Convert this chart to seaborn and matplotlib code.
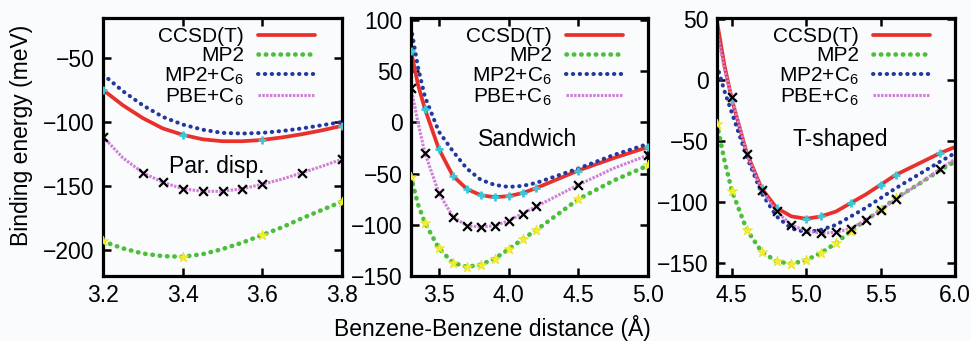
import numpy as np
import pandas as pd
import matplotlib
matplotlib.use("Agg")
import matplotlib.pyplot as plt
import seaborn as sns

# ---------------- data ----------------
methods = ["CCSD(T)", "MP2", "MP2+C6", "PBE+C6"]
legend_labels = ["CCSD(T)", "MP2", r"MP2+C$_\mathregular{6}$", r"PBE+C$_\mathregular{6}$"]

# Parallel displaced
par_x = [3.2, 3.25, 3.3, 3.35, 3.4, 3.45, 3.5, 3.55, 3.6, 3.65, 3.7, 3.75, 3.8]
par_ccsd = [-75, -87, -97, -105, -110, -113.5, -115, -115, -114, -112, -109.5, -106.5, -103]
par_mp2 = [-193, -198.5, -202.5, -204.5, -205, -203, -199, -194, -188, -182, -175, -168.5, -162]
par_mp2c6 = [-63, -76, -87, -96, -102, -106, -108.5, -109, -108.5, -107, -105, -102.5, -100]
par_pbec6 = [-111.5, -128, -139.5, -147, -152, -154, -154, -152, -148.5, -144.5, -139.5, -134.5, -129]
par_ccsd_marks = [3.2, 3.4, 3.6, 3.8]
par_mp2_marks = [3.2, 3.4, 3.6, 3.8]
par_pbe_marks = [3.2, 3.3, 3.35, 3.4, 3.45, 3.5, 3.55, 3.6, 3.7, 3.8]

# Sandwich
sw_x = [3.3, 3.35, 3.4, 3.5, 3.6, 3.7, 3.8, 3.9, 4.0, 4.1, 4.2, 4.5, 4.75, 5.0]
sw_ccsd = [70, 37, 13, -26, -52, -65, -71, -73, -72, -69, -64, -47, -35, -24]
sw_mp2 = [-53, -80, -98, -123, -137, -141, -139, -133, -124, -114, -105, -75, -57, -42]
sw_mp2c6 = [93, 54, 25, -9, -28, -45, -56, -61, -63, -62, -59, -45, -32, -21]
sw_pbec6 = [34, 0, -30, -69, -92, -101, -102, -101, -96, -89, -82, -61, -45, -32]
sw_ccsd_marks = [3.3, 3.4, 3.5, 3.6, 3.7, 3.8, 3.9, 4.0, 4.1, 4.2, 4.5, 5.0]
sw_mp2_marks = [3.3, 3.4, 3.5, 3.6, 3.7, 3.8, 3.9, 4.0, 4.1, 4.2, 4.5, 5.0]
sw_pbe_marks = [3.3, 3.4, 3.5, 3.6, 3.7, 3.8, 3.9, 4.0, 4.1, 4.2, 4.5, 5.0]

# T-shaped
ts_x = [4.4, 4.45, 4.5, 4.6, 4.7, 4.8, 4.9, 5.0, 5.1, 5.2, 5.3, 5.4, 5.5, 5.6, 5.75, 5.9, 6.0]
ts_ccsd = [48, 12, -16, -60, -89, -105, -112, -114, -112, -108, -101, -94, -86, -78, -69, -60, -55]
ts_mp2 = [-36, -66, -91, -123, -141, -149, -151, -148, -142, -134, -124, -115, -107, -97, -86, -74, -67]
ts_mp2c6 = [12, -9, -27, -63, -93, -112, -122, -125, -123, -119, -112, -105, -97, -89, -78, -67, -60]
ts_pbec6 = [40, 9, -14, -61, -90, -108, -119, -124, -126, -125, -122, -115, -107, -98, -86, -73, -65]
ts_ccsd_marks = [4.5, 4.7, 4.8, 5.0, 5.1, 5.3, 5.5, 5.6, 5.9]
ts_mp2_marks = [4.4, 4.5, 4.6, 4.7, 4.8, 4.9, 5.0, 5.1, 5.2, 5.3, 5.5, 5.6]
ts_pbe_marks = [4.5, 4.6, 4.7, 4.8, 4.9, 5.0, 5.1, 5.2, 5.3, 5.4, 5.5, 5.6, 5.9]

panel_titles = ["Par. disp.", "Sandwich", "T-shaped"]
x_label = "Benzene-Benzene distance (Å)"
y_label = "Binding energy (meV)"

# ---------------- style ----------------
sns.set_theme(style="ticks")
plt.rcParams["font.family"] = ["Liberation Sans", "DejaVu Sans"]
plt.rcParams["mathtext.fontset"] = "custom"
plt.rcParams["mathtext.rm"] = "Liberation Sans"
plt.rcParams["axes.unicode_minus"] = True
for key in ["text.color", "axes.labelcolor", "xtick.color", "ytick.color",
            "xtick.labelcolor", "ytick.labelcolor"]:
    plt.rcParams[key] = "black"

BG = "#fafbfd"
line_styles = {
    "CCSD(T)": dict(color="#e8302c", lw=2.7, linestyle="-"),
    "MP2": dict(color="#4cbf3a", lw=3.3, linestyle=(0, (0.1, 1.5)), dash_capstyle="round"),
    "MP2+C6": dict(color="#22389e", lw=2.9, linestyle=(0, (0.1, 1.6)), dash_capstyle="round"),
    "PBE+C6": dict(color="#cf7fd6", lw=2.2, linestyle=(0, (0.8, 0.45))),
}

FS = 16.5
LEG_FS = 15

fig = plt.figure(figsize=(9.71, 3.41), dpi=100, facecolor=BG)
W, H = 971.0, 341.0
panel_px = [(103, 342), (411, 648), (717, 955)]
top_px, bot_px = 18, 276

panels = [
    dict(x=par_x, data=[par_ccsd, par_mp2, par_mp2c6, par_pbec6],
         marks=[par_ccsd_marks, par_mp2_marks, par_pbe_marks],
         xlim=(3.2, 3.8), ylim=(-220, -19), xticks=[3.2, 3.4, 3.6, 3.8],
         yticks=[-200, -150, -100, -50], fmt="{:.1f}", text_xy=(3.485, -135)),
    dict(x=sw_x, data=[sw_ccsd, sw_mp2, sw_mp2c6, sw_pbec6],
         marks=[sw_ccsd_marks, sw_mp2_marks, sw_pbe_marks],
         xlim=(3.3, 5.0), ylim=(-150, 102), xticks=[3.5, 4.0, 4.5, 5.0],
         yticks=[-150, -100, -50, 0, 50, 100], fmt="{:.1f}", text_xy=(4.14, -17)),
    dict(x=ts_x, data=[ts_ccsd, ts_mp2, ts_mp2c6, ts_pbec6],
         marks=[ts_ccsd_marks, ts_mp2_marks, ts_pbe_marks],
         xlim=(4.4, 6.0), ylim=(-161, 51), xticks=[4.5, 5.0, 5.5, 6.0],
         yticks=[-150, -100, -50, 0, 50], fmt="{:.1f}", text_xy=(5.23, -49)),
]

for i, (p, (l, r)) in enumerate(zip(panels, panel_px)):
    ax = fig.add_axes([l / W, 1 - bot_px / H, (r - l) / W, (bot_px - top_px) / H])
    ax.set_facecolor(BG)
    df = pd.DataFrame({"x": p["x"]})
    for m, vals in zip(methods, p["data"]):
        df[m] = vals
    long = df.melt(id_vars="x", var_name="method", value_name="E")

    for m, lab in zip(methods, legend_labels):
        sub = long[long["method"] == m]
        sns.lineplot(data=sub, x="x", y="E", ax=ax, label=lab, sort=False,
                     estimator=None, zorder=2, **line_styles[m])

    # markers at computed points
    def pick(method, xs):
        sel = long[long["method"] == method]
        return sel[np.isclose(sel["x"].values[:, None], xs).any(axis=1)]

    ccsd = pick("CCSD(T)", p["marks"][0])
    mp2 = pick("MP2", p["marks"][1])
    pbe = pick("PBE+C6", p["marks"][2])
    sns.scatterplot(data=mp2, x="x", y="E", ax=ax, marker="*", s=60, color="#f2f02a",
                    edgecolor="#e6e020", linewidth=0.5, zorder=4, legend=False)
    sns.scatterplot(data=ccsd, x="x", y="E", ax=ax, marker="+", s=30, color="#3cc6d6",
                    linewidth=2.0, zorder=4, legend=False)
    sns.scatterplot(data=pbe, x="x", y="E", ax=ax, marker="x", s=40, color="black",
                    linewidth=1.6, zorder=5, legend=False)

    ax.set_xlim(*p["xlim"])
    ax.set_ylim(*p["ylim"])
    ax.set_xticks(p["xticks"])
    ax.set_xticklabels([p["fmt"].format(v) for v in p["xticks"]])
    ax.set_yticks(p["yticks"])
    ax.set_xlabel("")
    ax.set_ylabel("")
    ax.tick_params(direction="in", length=6, width=1.8, top=True, right=True,
                   labelsize=FS, pad=6, colors="black")
    for s in ax.spines.values():
        s.set_linewidth(2.3)
        s.set_color("black")
        s.set_visible(True)

    ax.text(*p["text_xy"], panel_titles[i], ha="center", va="center", fontsize=FS)

    right_off = 27 if i == 0 else 25
    bx = 1 - right_off / (r - l)
    ax.legend(loc="upper right", bbox_to_anchor=(bx, 0.965), frameon=False,
              markerfirst=False, fontsize=LEG_FS, handlelength=2.75, handletextpad=0.65,
              labelspacing=0.0, borderpad=0, borderaxespad=0)

    if i == 0:
        ax.set_ylabel(y_label, fontsize=FS)
        ax.yaxis.set_label_coords((33 - l) / (r - l), (bot_px - 135) / (bot_px - top_px))

fig.text(492 / W, 1 - 328 / H, x_label, ha="center", va="center", fontsize=FS)

fig.savefig("out.png", dpi=100, facecolor=BG)
